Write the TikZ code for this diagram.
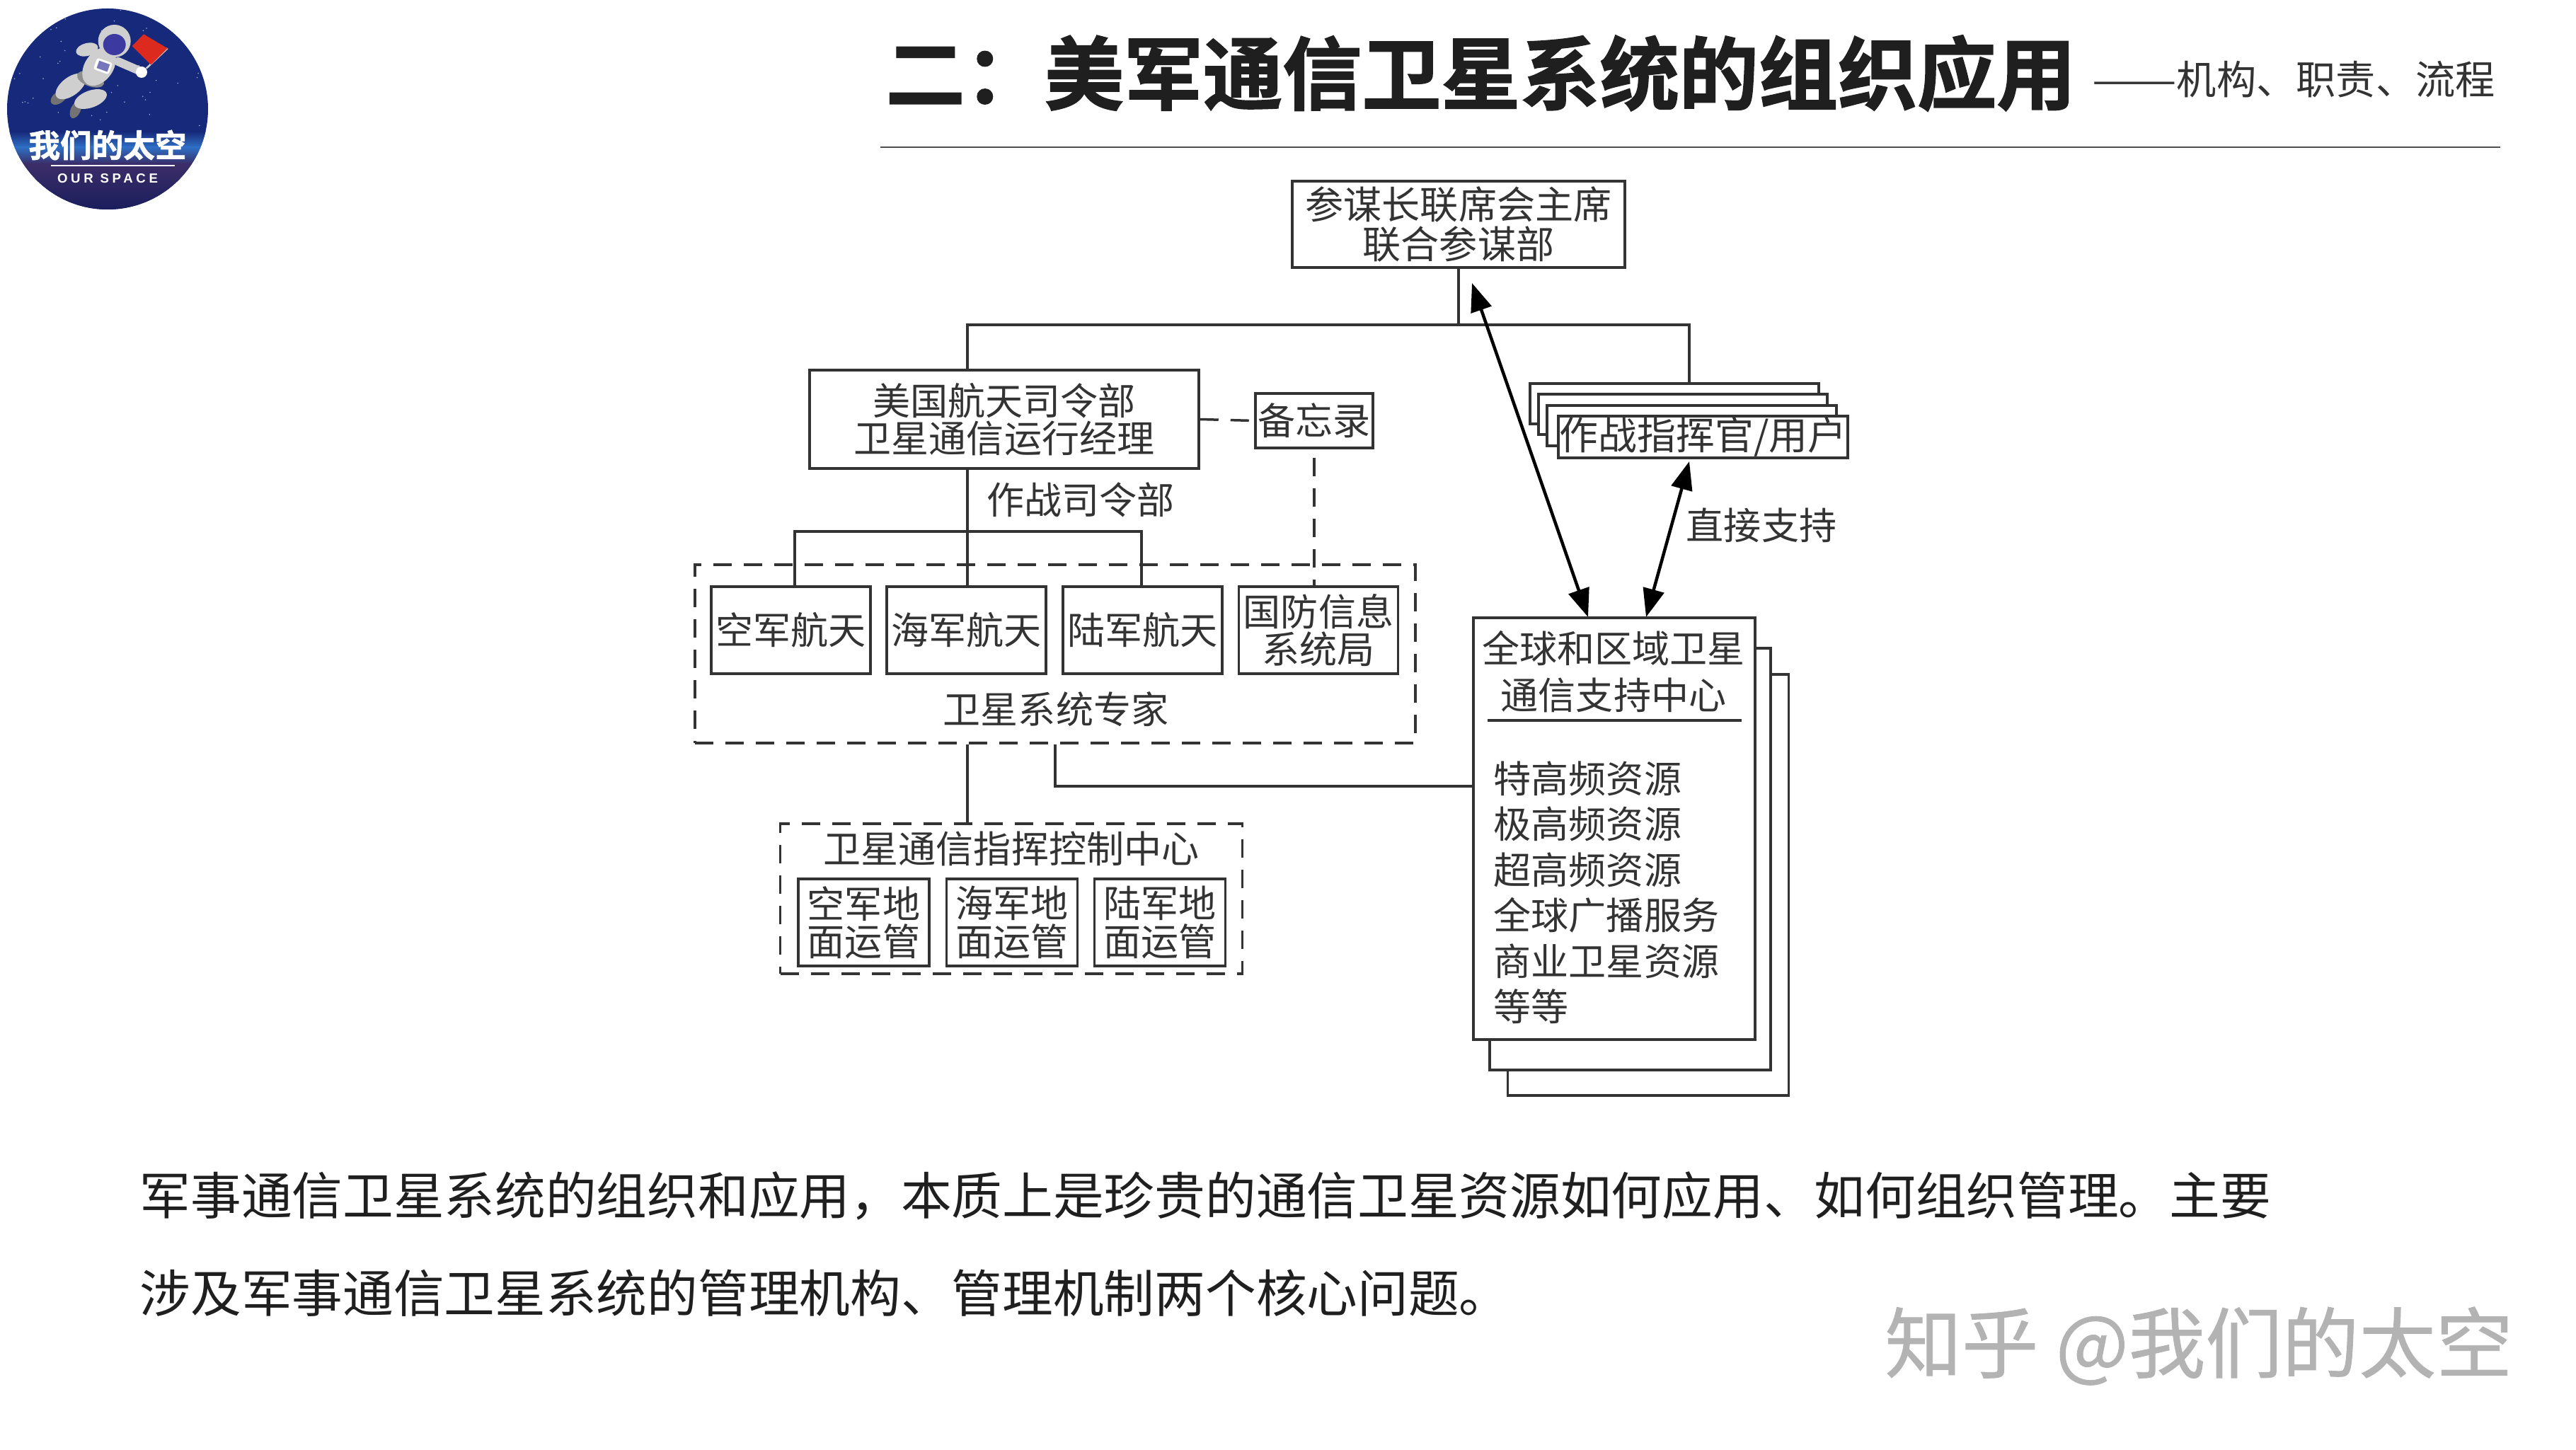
\documentclass[tikz,border=0pt]{standalone}
\usepackage{fontspec}
\usepackage{color}
\usetikzlibrary{arrows.meta}
\setmainfont{Noto Sans CJK SC}
\newfontfamily\titlefont[FakeBold=1.5]{Noto Sans CJK SC Bold}
\newfontfamily\markfont[FakeBold=0.8]{Noto Sans CJK SC}
\newfontfamily\logofont[LetterSpace=25]{Liberation Sans Bold}
\definecolor{inkgray}{HTML}{333333}
\definecolor{headink}{HTML}{1F1F1F}
\definecolor{rulegray}{HTML}{505050}
\definecolor{markgray}{HTML}{B3B3B3}
\definecolor{logonavy}{HTML}{17297A}
\definecolor{logoglow}{HTML}{2E6FC4}
\definecolor{logoviolet}{HTML}{3B2D68}
\definecolor{logodeep}{HTML}{1A1D5C}
\definecolor{suitgray}{HTML}{CFCFCF}
\definecolor{bootgray}{HTML}{737373}
\definecolor{visorblue}{HTML}{3C3AA0}
\definecolor{flagred}{HTML}{DC2A1E}
\tikzset{
  unitbox/.style = {draw = inkgray, line width = 0.35mm, fill = white, inner sep = 0pt, text = inkgray, align = center, font = \fontsize{15.1}{15.2}\selectfont},
  groupbox/.style = {draw = inkgray, line width = 0.38mm, dash pattern = on 0.26cm off 0.17cm, inner sep = 0pt},
  unitlabel/.style = {inner sep = 0pt, text = inkgray, font = \fontsize{15.1}{15.2}\selectfont},
  linkline/.style = {draw = inkgray, line width = 0.32mm},
  dashline/.style = {draw = inkgray, line width = 0.35mm, dash pattern = on 0.26cm off 0.17cm},
  duplex/.style = {draw = black, line width = 0.45mm, {Triangle[length = 0.4cm, width = 0.3cm]}-{Triangle[length = 0.4cm, width = 0.3cm]}},
  bodyline/.style = {inner sep = 0pt, anchor = west, text = headink, font = \fontsize{20.4}{24}\selectfont},
}
\begin{document}
\begin{tikzpicture}
\useasboundingbox (0, 0) rectangle (36.4, 20.48);

\begin{scope}
\clip (1.52, 18.94) circle (1.42);
\fill[logonavy] (0, 17.4) rectangle (3.1, 20.48);
\pgfmathsetseed{7}
\foreach \i in {1,...,90} {
  \fill[white, opacity = 0.6] ({1.52 + 1.4 * rand}, {18.94 + 1.4 * rand}) circle (0.009);
}
\shade[top color = logonavy, bottom color = logoglow] (0, 18.62) rectangle (3.1, 18.40);
\shade[top color = logoglow, bottom color = logoviolet] (0, 18.40) rectangle (3.1, 18.16);
\shade[top color = logoviolet, bottom color = logodeep] (0, 18.16) rectangle (3.1, 17.5);
\end{scope}

\fill[bootgray, rotate around = {37:(0.83, 19.10)}] (0.83, 19.10) ellipse (0.13 and 0.08);
\fill[bootgray, rotate around = {65:(1.07, 18.93)}] (1.07, 18.93) ellipse (0.13 and 0.07);
\fill[suitgray, rotate around = {37:(1.00, 19.26)}] (1.00, 19.26) ellipse (0.25 and 0.13);
\fill[suitgray, rotate around = {20:(1.28, 19.08)}] (1.28, 19.08) ellipse (0.24 and 0.12);
\fill[bootgray!80, rotate around = {-20:(1.28, 19.36)}] (1.28, 19.36) ellipse (0.2 and 0.1);
\fill[suitgray, rotate around = {55:(1.40, 19.54)}] (1.40, 19.54) ellipse (0.3 and 0.2);
\fill[suitgray, rotate around = {15:(1.23, 19.78)}] (1.23, 19.78) ellipse (0.16 and 0.09);
\draw[suitgray, line width = 1.2mm, line cap = round] (1.67, 19.61) -- (1.97, 19.48);
\fill[white, rotate around = {-20:(1.457, 19.547)}, rounded corners = 0.03cm] (1.34, 19.46) rectangle (1.57, 19.63);
\fill[visorblue!70, rotate around = {-20:(1.457, 19.547)}] (1.38, 19.49) rectangle (1.54, 19.60);
\fill[suitgray] (1.617, 19.90) circle (0.23);
\fill[visorblue] (1.617, 19.85) ellipse (0.16 and 0.15);
\draw[suitgray, line width = 0.25mm] (2.367, 19.797) -- (2.067, 19.513);
\fill[flagred] (2.03, 19.997) -- (2.367, 19.797) -- (2.133, 19.563) -- (1.867, 19.83) -- cycle;
\fill[white] (2.0, 19.46) circle (0.08);
\draw[white, line width = 0.2mm] (0.72, 18.14) -- (2.47, 18.14);
\node[inner sep = 0pt, text = white, font = \titlefont\fontsize{12.7}{13}\selectfont] (logotitle) at (1.52, 18.43) {我们的太空};
\node[inner sep = 0pt, text = white, font = \logofont\fontsize{5.3}{6}\selectfont] (logosub) at (1.52, 17.96) {OUR SPACE};

\node[inner sep = 0pt, text = headink, font = \titlefont\fontsize{31.9}{34}\selectfont] (headline) at (20.925, 19.445) {二：美军通信卫星系统的组织应用};
\node[inner sep = 0pt, text = inkgray, font = \fontsize{16}{18}\selectfont] (subhead) at (32.41, 19.36) {\scalebox{1.27}[1]{——}机构、职责、流程};
\draw[rulegray, line width = 0.2mm] (12.44, 18.40) -- (35.33, 18.40);

\node[groupbox, minimum width = 10.18cm, minimum height = 2.52cm] (experts) at (14.91, 11.24) {};
\node[unitlabel] (expertslabel) at (14.92, 10.46) {卫星系统专家};
\node[groupbox, minimum width = 6.53cm, minimum height = 2.12cm] (control) at (14.29, 7.78) {};
\node[unitlabel] (controllabel) at (14.29, 8.49) {卫星通信指挥控制中心};

\node[unitbox, minimum width = 4.70cm, minimum height = 1.22cm, font = \fontsize{15.4}{15.8}\selectfont] (chair) at (20.61, 17.31) {参谋长联席会主席\\联合参谋部};
\node[unitbox, minimum width = 5.50cm, minimum height = 1.39cm] (spacecom) at (14.19, 14.555) {美国航天司令部\\卫星通信运行经理};
\node[unitbox, minimum width = 1.66cm, minimum height = 0.77cm] (memo) at (18.57, 14.535) {备忘录};
\node[unitlabel] (commandlabel) at (15.27, 13.42) {作战司令部};

\node[unitbox, minimum width = 2.25cm, minimum height = 1.23cm] (air) at (11.175, 11.575) {空军航天};
\node[unitbox, minimum width = 2.25cm, minimum height = 1.23cm] (navy) at (13.655, 11.575) {海军航天};
\node[unitbox, minimum width = 2.25cm, minimum height = 1.23cm] (army) at (16.145, 11.575) {陆军航天};
\node[unitbox, minimum width = 2.25cm, minimum height = 1.23cm] (disa) at (18.63, 11.575) {国防信息\\系统局};

\node[unitbox, minimum width = 1.85cm, minimum height = 1.23cm] (airground) at (12.205, 7.445) {空军地\\面运管};
\node[unitbox, minimum width = 1.85cm, minimum height = 1.23cm] (navyground) at (14.30, 7.445) {海军地\\面运管};
\node[unitbox, minimum width = 1.85cm, minimum height = 1.23cm] (armyground) at (16.39, 7.445) {陆军地\\面运管};

\node[unitbox, minimum width = 4.08cm, minimum height = 0.57cm] (userd) at (23.66, 14.775) {};
\node[unitbox, minimum width = 4.08cm, minimum height = 0.57cm] (userc) at (23.78, 14.625) {};
\node[unitbox, minimum width = 4.09cm, minimum height = 0.57cm] (userb) at (23.905, 14.465) {};
\node[unitbox, minimum width = 4.09cm, minimum height = 0.59cm, font = \fontsize{15.6}{16}\selectfont] (usera) at (24.065, 14.305) {作战指挥官/用户};

\node[unitbox, minimum width = 3.97cm, minimum height = 5.95cm] (supportc) at (23.29, 7.975) {};
\node[unitbox, minimum width = 3.97cm, minimum height = 5.96cm] (supportb) at (23.035, 8.34) {};
\node[unitbox, minimum width = 3.98cm, minimum height = 5.96cm] (support) at (22.81, 8.77) {};
\node[unitlabel, align = center, font = \fontsize{15.1}{18.8}\selectfont] (supporthead) at (22.80, 10.99) {全球和区域卫星\\通信支持中心};
\draw[inkgray, line width = 0.35mm] (21.02, 10.30) -- (24.61, 10.30);
\node[unitlabel, anchor = west, align = left, font = \fontsize{15.1}{18.35}\selectfont] (supportlist) at (21.10, 7.87) {特高频资源\\极高频资源\\超高频资源\\全球广播服务\\商业卫星资源\\等等};
\node[unitlabel] (directlabel) at (24.89, 13.06) {直接支持};

\coordinate (busleft) at (13.67, 15.89);
\coordinate (busright) at (23.87, 15.89);
\coordinate (branch) at (13.67, 12.97);
\coordinate (junction) at (14.91, 9.37);
\coordinate (chairtip) at (20.80, 16.48);
\coordinate (supporttipa) at (22.44, 11.76);
\coordinate (usertip) at (23.87, 13.96);
\coordinate (supporttipb) at (23.26, 11.76);

\draw[linkline] (chair.south) |- (busleft) -- (busleft |- spacecom.north);
\draw[linkline] (chair.south |- busright) -- (busright) -- (busright |- userd.north);
\draw[linkline] (busleft |- spacecom.south) -- (busleft |- navy.north);
\draw[linkline] ([xshift = 0.055cm]air.north) |- (branch) -| ([xshift = -0.015cm]army.north);
\draw[linkline] (busleft |- experts.south) -- (busleft |- control.north);
\draw[linkline] (support.west |- junction) -| (experts.south);
\draw[dashline] (spacecom.east) -- (memo.west);
\draw[dashline] ([yshift = -0.12cm]memo.south) -- (memo.south |- disa.north);
\draw[duplex] (chairtip) -- (supporttipa);
\draw[duplex] (usertip) -- (supporttipb);

\node[bodyline] (bodyone) at (1.97, 3.58) {军事通信卫星系统的组织和应用，本质上是珍贵的通信卫星资源如何应用、如何组织管理。主要};
\node[bodyline] (bodytwo) at (1.97, 2.21) {涉及军事通信卫星系统的管理机构、管理机制两个核心问题。};
\node[inner sep = 0pt, text = markgray, font = \markfont\fontsize{30.9}{32}\selectfont] (watermark) at (31.07, 1.46) {知乎 @我们的太空};

\end{tikzpicture}
\end{document}
